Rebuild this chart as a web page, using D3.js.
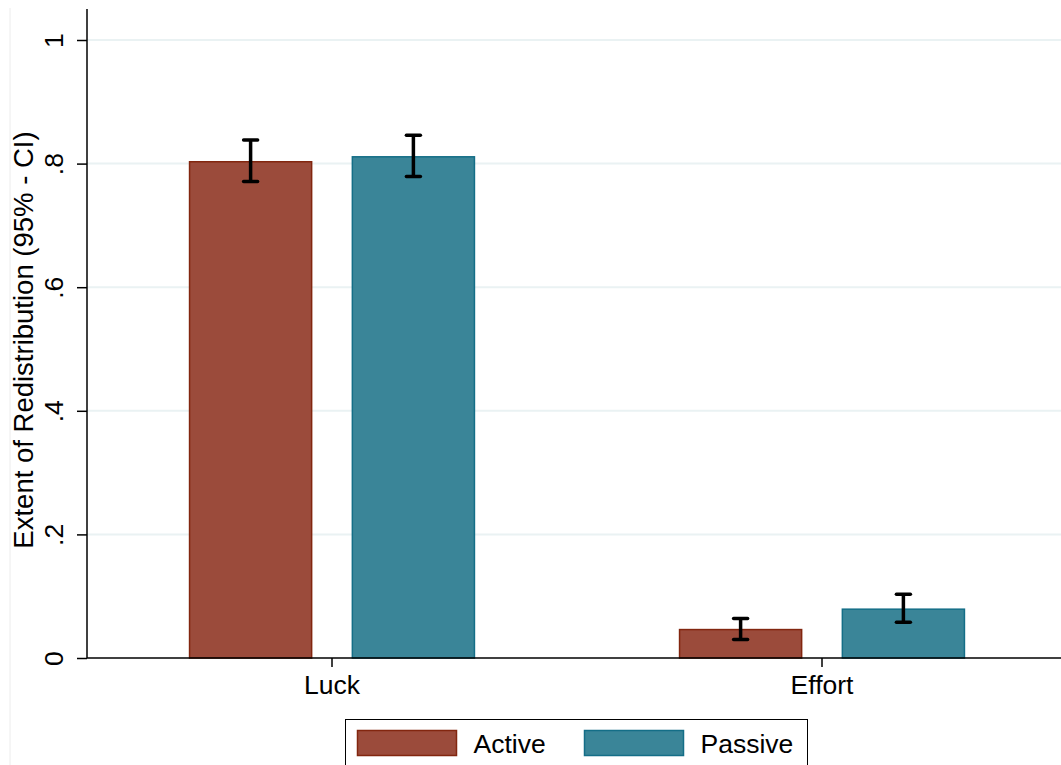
<!DOCTYPE html>
<html>
<head>
<meta charset="utf-8">
<script src="https://cdn.jsdelivr.net/npm/d3@7"></script>
<style>
  html, body { margin: 0; padding: 0; background: #fff; }
  svg { display: block; font-family: "Liberation Sans", Arial, sans-serif; }
</style>
</head>
<body>
<svg id="chart" width="1061" height="765"></svg>
<script>
// Groups and series
const groups = ["Luck", "Effort"];
const series = ["Active", "Passive"];

// Mean extent of redistribution, per group, in series order
const meanActive  = [0.803, 0.046];
const meanPassive = [0.811, 0.079];

// 95% confidence bounds
const lowActive   = [0.771, 0.030];
const highActive  = [0.838, 0.064];
const lowPassive  = [0.779, 0.058];
const highPassive = [0.846, 0.103];

const yTicks = [0, 0.2, 0.4, 0.6, 0.8, 1];
const yTickLabels = ["0", ".2", ".4", ".6", ".8", "1"];

const fills   = { Active: "#9b4b3b", Passive: "#3a8598" };
const strokes = { Active: "#82260f", Passive: "#146e87" };

const fontSize = 26.5;

const rows = [];
groups.forEach((g, i) => {
  rows.push({ group: g, series: "Active",  mean: meanActive[i],  lo: lowActive[i],  hi: highActive[i] });
  rows.push({ group: g, series: "Passive", mean: meanPassive[i], lo: lowPassive[i], hi: highPassive[i] });
});

const svg = d3.select("#chart");
const plot = { left: 87, right: 1061, top: 9, bottom: 658 };

const y = d3.scaleLinear().domain([0, 1]).range([658, 40]);
const x0 = d3.scaleBand().domain(groups).range([87, 1067]).padding(0);
const x1 = d3.scaleBand().domain(series).range([0, x0.bandwidth()])
  .paddingInner(0.25).paddingOuter(0.63);

// faint outer frame line on the left
svg.append("line")
  .attr("x1", 10).attr("x2", 10).attr("y1", 8).attr("y2", 765)
  .attr("stroke", "#ececec").attr("stroke-width", 1);

// horizontal grid lines
svg.append("g").selectAll("line")
  .data(yTicks.filter(t => t > 0))
  .join("line")
  .attr("x1", plot.left).attr("x2", plot.right)
  .attr("y1", d => y(d)).attr("y2", d => y(d))
  .attr("stroke", "#eaf2f3").attr("stroke-width", 2);

// bars
svg.append("g").selectAll("rect")
  .data(rows)
  .join("rect")
  .attr("x", d => x0(d.group) + x1(d.series))
  .attr("y", d => y(d.mean))
  .attr("width", x1.bandwidth())
  .attr("height", d => y(0) - y(d.mean))
  .attr("fill", d => fills[d.series])
  .attr("stroke", d => strokes[d.series])
  .attr("stroke-width", 1.5);

// confidence intervals
const cap = 7;
const ci = svg.append("g").attr("stroke", "#000").attr("stroke-width", 3.5).attr("fill", "none");
rows.forEach(d => {
  const cx = x0(d.group) + x1(d.series) + x1.bandwidth() / 2;
  ci.append("line").attr("x1", cx).attr("x2", cx).attr("y1", y(d.lo)).attr("y2", y(d.hi));
  ci.append("line").attr("x1", cx - cap).attr("x2", cx + cap).attr("y1", y(d.lo)).attr("y2", y(d.lo)).attr("stroke-linecap", "round");
  ci.append("line").attr("x1", cx - cap).attr("x2", cx + cap).attr("y1", y(d.hi)).attr("y2", y(d.hi)).attr("stroke-linecap", "round");
});

// y axis
const yAxis = d3.axisLeft(y).tickValues(yTicks)
  .tickFormat((d, i) => yTickLabels[i]).tickSize(10).tickPadding(14);
const gy = svg.append("g").attr("transform", `translate(${plot.left},0)`).call(yAxis);
gy.select(".domain").remove();
gy.selectAll(".tick line").attr("stroke", "#000").attr("stroke-width", 1.5);
gy.selectAll(".tick text")
  .attr("font-size", fontSize).attr("fill", "#000")
  .attr("text-anchor", "middle")
  .attr("x", null).attr("dy", null)
  .attr("transform", "translate(-24,0) rotate(-90)");
svg.append("line")
  .attr("x1", plot.left).attr("x2", plot.left).attr("y1", plot.top).attr("y2", plot.bottom)
  .attr("stroke", "#000").attr("stroke-width", 1.5);

// x axis
const xAxis = d3.axisBottom(x0).tickSize(9).tickPadding(8);
const gx = svg.append("g").attr("transform", `translate(0,${plot.bottom})`).call(xAxis);
gx.select(".domain").remove();
gx.selectAll(".tick line").attr("stroke", "#000").attr("stroke-width", 1.5);
gx.selectAll(".tick text").attr("font-size", fontSize).attr("fill", "#000");
svg.append("line")
  .attr("x1", plot.left).attr("x2", plot.right).attr("y1", plot.bottom).attr("y2", plot.bottom)
  .attr("stroke", "#000").attr("stroke-width", 1.5);

// y axis title
svg.append("text")
  .attr("transform", "translate(33,340) rotate(-90)")
  .attr("text-anchor", "middle")
  .attr("font-size", 27.5).attr("fill", "#000")
  .text("Extent of Redistribution (95% - CI)");

// legend
const legend = svg.append("g");
legend.append("rect")
  .attr("x", 345.5).attr("y", 719.5).attr("width", 462).attr("height", 60)
  .attr("fill", "#fff").attr("stroke", "#000").attr("stroke-width", 1);
const legendX = { Active: 357.5, Passive: 584.5 };
series.forEach(s => {
  legend.append("rect")
    .attr("x", legendX[s]).attr("y", 730.5).attr("width", 99).attr("height", 25)
    .attr("fill", fills[s]).attr("stroke", strokes[s]).attr("stroke-width", 1.5);
  legend.append("text")
    .attr("x", legendX[s] + 116).attr("y", 753)
    .attr("font-size", fontSize).attr("fill", "#000")
    .text(s);
});
</script>
</body>
</html>
